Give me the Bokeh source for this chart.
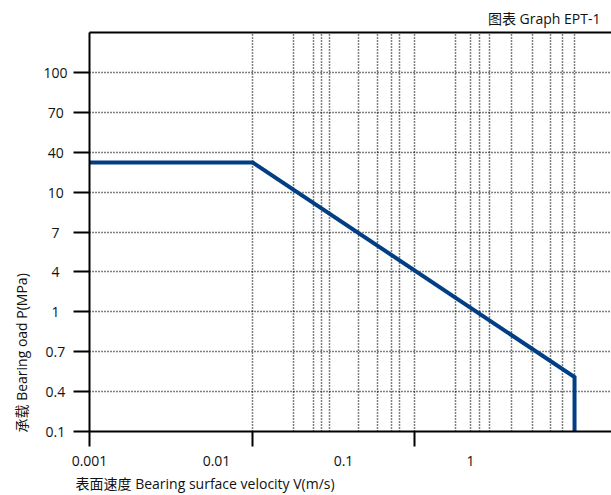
import numpy as np
from bokeh.plotting import figure
from bokeh.models import Range1d, FixedTicker, LogAxis, Title
from bokeh.embed import file_html
from bokeh.resources import INLINE

FONT = "Open Sans, Noto Sans CJK SC"

# ---- data ----
velocity = [0.001, 0.0193, 6.6, 6.6]          # V (m/s)
load = [28, 28, 0.49, 0.1]                     # P (MPa)

# y axis: evenly spaced labelled levels (non-uniform values)
y_tick_values = [0.1, 0.4, 0.7, 1, 4, 7, 10, 40, 70, 100]
y_tick_labels = ["0.1", "0.4", "0.7", "1", "4", "7", "10", "40", "70", "100"]

# x axis labels and marks
x_label_values = [0.001, 0.01, 0.1, 1]
x_label_texts = ["0.001", "0.01", "0.1", "1"]
x_tick_marks = [0.001, 0.0193, 0.36]
x_grid_values = [0.0193, 0.0402, 0.0584, 0.0671, 0.0776, 0.132, 0.186, 0.239,
                 0.276, 0.360, 0.762, 1.0, 1.18, 1.42, 2.09, 3.06, 4.27, 5.33, 6.59]

# map load values onto the evenly spaced level axis
level_idx = np.arange(len(y_tick_values))
def level_pos(v):
    return np.interp(np.log10(v), np.log10(y_tick_values), level_idx)

y_pos = level_pos(np.array(load, dtype=float))

# trailing padding so the (right-aligned) tick labels appear centred
def centred(label):
    if len(label) == 1:
        return label + "\u2007"
    if len(label) == 2:
        return label + "\u2008"
    if "." in label:
        return label + "\u2009"
    return label

p = figure(width=611, height=495, x_axis_type="log",
           x_range=Range1d(0.001, 12.9), y_range=Range1d(0, 10),
           output_backend="svg", toolbar_location=None, title=None,
           min_border_left=89, min_border_right=0, min_border_top=32,
           min_border_bottom=63)
p.outline_line_color = None
p.background_fill_color = "white"
p.border_fill_color = "white"

# bottom axis
xa = p.xaxis[0]
xa.ticker = FixedTicker(ticks=x_label_values, minor_ticks=x_tick_marks)
xa.major_label_overrides = {v: t for v, t in zip(x_label_values, x_label_texts)}
xa.major_tick_out = 0
xa.major_tick_in = 0
xa.minor_tick_out = 15
xa.minor_tick_in = 0
xa.minor_tick_line_width = 2
xa.minor_tick_line_color = "black"
xa.axis_line_width = 2
xa.axis_line_color = "black"
xa.major_label_standoff = 9
xa.major_label_text_font = FONT
xa.major_label_text_font_size = "14px"
xa.major_label_text_color = "#111111"

# left axis
ya = p.yaxis[0]
ya.ticker = FixedTicker(ticks=list(level_idx))
ya.major_label_overrides = {int(i): centred(t) for i, t in zip(level_idx, y_tick_labels)}
ya.major_tick_out = 16
ya.major_tick_in = 0
ya.major_tick_line_width = 2
ya.major_tick_line_color = "black"
ya.minor_tick_line_color = None
ya.axis_line_width = 2
ya.axis_line_color = "black"
ya.major_label_standoff = 6
ya.major_label_text_font = FONT
ya.major_label_text_font_size = "14px"
ya.major_label_text_color = "#111111"

# grids
xg = p.xgrid[0]
xg.ticker = FixedTicker(ticks=x_grid_values)
xg.grid_line_color = "black"
xg.grid_line_dash = "1 2"
xg.grid_line_width = 1.5
yg = p.ygrid[0]
yg.ticker = FixedTicker(ticks=list(level_idx[1:]))
yg.grid_line_color = "black"
yg.grid_line_dash = "1 2"
yg.grid_line_width = 1.5

# top border line
top = LogAxis(ticker=FixedTicker(ticks=[]), axis_line_width=2, axis_line_color="black",
              major_tick_line_color=None, minor_tick_line_color=None)
p.add_layout(top, "above")

p.add_layout(Title(text="图表 Graph EPT-1", align="right", offset=11,
                   text_font=FONT, text_font_size="14px", text_font_style="normal",
                   text_color="#111111"), "above")
p.add_layout(Title(text="表面速度 Bearing surface velocity V(m/s)", align="left", offset=-14,
                   standoff=6,
                   text_font=FONT, text_font_size="14px", text_font_style="normal",
                   text_color="#111111"), "below")
p.add_layout(Title(text="承载 Bearing oad P(MPa)", align="left", offset=-1,
                   standoff=19,
                   text_font=FONT, text_font_size="14px", text_font_style="normal",
                   text_color="#111111"), "left")

p.line(x=velocity, y=y_pos, line_width=4, line_color="#003e86", line_join="miter")

open("out.html", "w").write(file_html(p, INLINE))
